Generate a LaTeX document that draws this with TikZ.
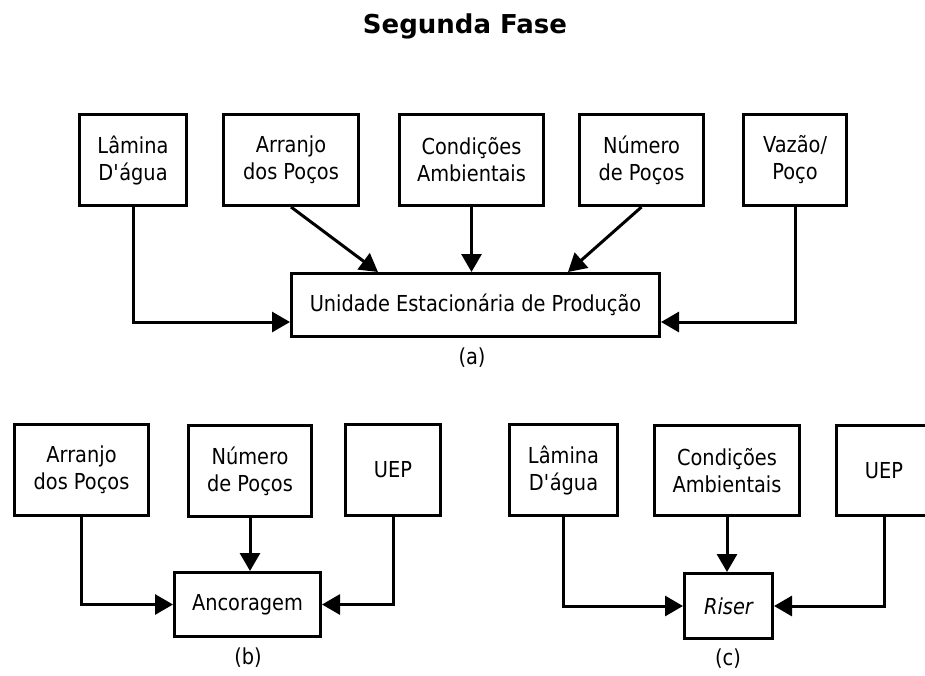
\documentclass[tikz,border=0pt]{standalone}
\usepackage{fontspec}
\setmainfont[FakeStretch=0.88]{DejaVu Sans}
\newfontfamily\titlefnt{DejaVu Sans}
\usetikzlibrary{arrows.meta,calc}
\newcommand\bodyfnt{\fontsize{22}{27}\selectfont}
\begin{document}
\begin{tikzpicture}[x=1pt,y=-1pt,
  box/.style={draw=black, line width=3pt, align=center, inner sep=0pt, font=\bodyfnt},
  conn/.style={line width=3pt, -{Triangle[length=18pt,width=20pt]}},
  lbl/.style={font=\bodyfnt, inner sep=0pt},
  ttl/.style={font=\titlefnt\bfseries\fontsize{26}{30}\selectfont, inner sep=0pt}]
\clip (0,0) rectangle (925,675);
\fill[white] (0,0) rectangle (925,675);

\node[ttl, anchor=base] (title) at (465,33) {Segunda Fase};

% (a)
\node[box, minimum width=107pt, minimum height=91pt] (lamA) at (133,160) {Lâmina\\D\textquotesingle água};
\node[box, minimum width=135pt, minimum height=91pt] (arrA) at (291,160) {Arranjo\\dos Poços};
\node[box, minimum width=144pt, minimum height=91pt] (conA) at (471.5,160) {Condições\\Ambientais};
\node[box, minimum width=124pt, minimum height=91pt] (numA) at (641.5,160) {Número\\de Poços};
\node[box, minimum width=103pt, minimum height=91pt] (vazA) at (795,160) {Vazão/\\Poço};
\node[box, minimum width=368pt, minimum height=63pt] (main) at (475.5,305) {Unidade Estacionária de Produção};
\node[lbl] (la) at (472,358) {(a)};

\draw[conn] (lamA.south) |- ([yshift=-17pt]main.west);
\draw[conn] (arrA.south) -- ([xshift=-97.5pt]main.north);
\draw[conn] (conA.south) -- (conA.south |- main.north);
\draw[conn] (numA.south) -- ([xshift=92.5pt]main.north);
\draw[conn] (vazA.south) |- ([yshift=-17pt]main.east);

% (b)
\node[box, minimum width=134pt, minimum height=91pt] (arrB) at (81.5,470) {Arranjo\\dos Poços};
\node[box, minimum width=123pt, minimum height=91pt] (numB) at (250,471) {Número\\de Poços};
\node[box, minimum width=95pt, minimum height=91pt] (uepB) at (393,470) {UEP};
\node[box, minimum width=146pt, minimum height=64pt] (anc) at (247.5,604.5) {Ancoragem};
\node[lbl] (lb) at (248,658) {(b)};

\draw[conn] (arrB.south) |- (anc.west);
\draw[conn] (numB.south) -- (numB.south |- anc.north);
\draw[conn] (uepB.south) |- (anc.east);

% (c)
\node[box, minimum width=108pt, minimum height=91pt] (lamC) at (563.5,470) {Lâmina\\D\textquotesingle água};
\node[box, minimum width=145pt, minimum height=90pt] (conC) at (727,470.5) {Condições\\Ambientais};
\node[box, minimum width=95pt, minimum height=90pt] (uepC) at (884,470.5) {UEP};
\node[box, minimum width=88pt, minimum height=65pt] (riser) at (728.5,606) {\itshape Riser};
\node[lbl] (lc) at (728,659) {(c)};

\draw[conn] (lamC.south) |- (riser.west);
\draw[conn] (conC.south) -- (conC.south |- riser.north);
\draw[conn] (uepC.south) |- (riser.east);
\end{tikzpicture}
\end{document}
